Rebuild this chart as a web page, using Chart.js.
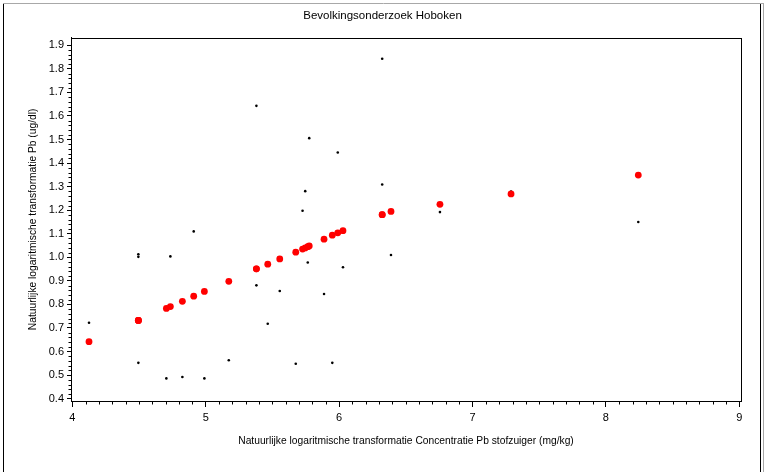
<!DOCTYPE html>
<html>
<head>
<meta charset="utf-8">
<title>Bevolkingsonderzoek Hoboken</title>
<script src="https://cdn.jsdelivr.net/npm/chart.js@4/dist/chart.umd.min.js"></script>
<style>
    html, body { margin: 0; padding: 0; background: #ffffff; }
    #wrap { width: 765px; height: 472px; }
</style>
</head>
<body>
<div id="wrap"><canvas id="pbChart" width="765" height="472"></canvas></div>
<script>
// ===== DATA =====
// ln Pb concentration in dust (mg/kg), one entry per subject
const lnDustPb = [
    4.125, 4.495, 4.495, 4.495, 4.705, 4.735, 4.825, 4.91, 4.99, 5.173,
    5.38, 5.38, 5.465, 5.555, 5.675, 5.726, 5.746, 5.765, 5.776, 5.887,
    5.949, 5.99, 6.029, 6.323, 6.323, 6.389, 6.756, 7.289, 8.243
];
// ln blood Pb (ug/dl), observed
const lnBloodPb = [
    0.722, 1.013, 1.002, 0.552, 0.486, 1.004, 0.492, 1.11, 0.486, 0.563,
    1.643, 0.881, 0.718, 0.857, 0.548, 1.198, 1.281, 0.978, 1.506, 0.844,
    0.552, 1.445, 0.958, 1.843, 1.309, 1.01, 1.192, 1.279, 1.150
];
// ln blood Pb (ug/dl), model prediction
const lnBloodPbFit = [
    0.642, 0.732, 0.732, 0.732, 0.783, 0.791, 0.813, 0.835, 0.855, 0.898,
    0.951, 0.951, 0.971, 0.993, 1.022, 1.035, 1.040, 1.045, 1.048, 1.077,
    1.094, 1.104, 1.113, 1.181, 1.181, 1.195, 1.225, 1.269, 1.349
];
// axis ticks
const xTicks = [4, 5, 6, 7, 8, 9];
const yTicks = [0.4, 0.5, 0.6, 0.7, 0.8, 0.9, 1.0, 1.1, 1.2, 1.3, 1.4, 1.5, 1.6, 1.7, 1.8, 1.9];

const FONT_FAMILY = "'Liberation Sans', Arial, sans-serif";
const NARROW_FAMILY = "'Liberation Sans Narrow', 'Liberation Sans', Arial, sans-serif";

const toPoints = (xs, ys) => xs.map((x, i) => ({ x: x, y: ys[i] }));

/**
 * Frame around the plot area, minor ticks and the page border
 */
const framePlugin = {
    id: 'sasFrame',
    afterDraw(chart) {
        const ctx = chart.ctx;
        const area = chart.chartArea;
        const xs = chart.scales.x;
        const ys = chart.scales.y;

        ctx.save();
        ctx.strokeStyle = '#000000';
        ctx.lineWidth = 1;
        ctx.strokeRect(Math.round(area.left) + 0.5, Math.round(area.top) + 0.5,
            Math.round(area.right - area.left), Math.round(area.bottom - area.top));

        // minor ticks: 0.1 on x, 0.02 on y
        ctx.beginPath();
        for (let i = 40; i <= 90; i++) {
            if (i % 10 === 0) continue;
            const px = Math.round(xs.getPixelForValue(i / 10)) + 0.5;
            ctx.moveTo(px, area.bottom);
            ctx.lineTo(px, area.bottom + 3.5);
        }
        for (let j = 20; j <= 95; j++) {
            if (j % 5 === 0) continue;
            const py = Math.round(ys.getPixelForValue(j / 50)) + 0.5;
            ctx.moveTo(area.left, py);
            ctx.lineTo(area.left - 2.5, py);
        }
        ctx.stroke();

        // page border
        ctx.strokeStyle = '#a8a8a8';
        ctx.beginPath();
        ctx.moveTo(3, 3.5);
        ctx.lineTo(764, 3.5);
        ctx.moveTo(763.5, 3);
        ctx.lineTo(763.5, chart.height);
        ctx.stroke();
        ctx.strokeStyle = '#000000';
        ctx.beginPath();
        ctx.moveTo(3.5, 4);
        ctx.lineTo(3.5, chart.height);
        ctx.moveTo(760.5, 4);
        ctx.lineTo(760.5, chart.height);
        ctx.stroke();
        ctx.restore();
    }
};

const chart = new Chart(document.getElementById('pbChart'), {
    type: 'scatter',
    data: {
        datasets: [
            {
                label: 'Voorspeld',
                data: toPoints(lnDustPb, lnBloodPbFit),
                backgroundColor: '#ff0000',
                borderWidth: 0,
                pointRadius: 3.4,
                pointHoverRadius: 3.4
            },
            {
                label: 'Waargenomen',
                data: toPoints(lnDustPb, lnBloodPb),
                backgroundColor: '#000000',
                borderWidth: 0,
                pointRadius: 1.3,
                pointHoverRadius: 1.3
            }
        ]
    },
    options: {
        responsive: false,
        animation: false,
        layout: { padding: 0 },
        plugins: {
            legend: { display: false },
            tooltip: { enabled: false },
            title: {
                display: true,
                text: 'Bevolkingsonderzoek Hoboken',
                color: '#000000',
                font: { family: NARROW_FAMILY, size: 11.5, weight: 'normal' },
                padding: { top: 9, bottom: 15 }
            }
        },
        scales: {
            x: {
                type: 'linear',
                min: 3.99,
                max: 9.013,
                afterBuildTicks: (axis) => { axis.ticks = xTicks.map(v => ({ value: v })); },
                afterFit: (axis) => { axis.height = 71; },
                grid: { drawOnChartArea: false, drawTicks: true, tickLength: 6, color: '#000000', tickColor: '#000000' },
                border: { display: true, color: '#000000' },
                ticks: {
                    color: '#000000',
                    padding: 4,
                    maxRotation: 0,
                    font: { family: FONT_FAMILY, size: 11 },
                    callback: (v) => String(v)
                },
                title: {
                    display: true,
                    text: 'Natuurlijke logaritmische transformatie Concentratie Pb stofzuiger (mg/kg)',
                    color: '#000000',
                    font: { family: NARROW_FAMILY, size: 10.25 },
                    padding: { top: 0, bottom: 25 }
                }
            },
            y: {
                type: 'linear',
                min: 0.39,
                max: 1.932,
                afterBuildTicks: (axis) => { axis.ticks = yTicks.map(v => ({ value: v })); },
                afterFit: (axis) => { axis.width = 71; },
                grid: { drawOnChartArea: false, drawTicks: true, tickLength: 4, color: '#000000', tickColor: '#000000' },
                border: { display: true, color: '#000000' },
                ticks: {
                    color: '#000000',
                    padding: 3,
                    font: { family: FONT_FAMILY, size: 11 },
                    callback: (v) => v.toFixed(1)
                },
                title: {
                    display: true,
                    text: 'Natuurlijke logaritmische transformatie Pb (ug/dl)',
                    color: '#000000',
                    font: { family: NARROW_FAMILY, size: 10.25 },
                    padding: { top: 27, bottom: 0 }
                }
            },
            // empty right-hand axis, only reserves the margin right of the frame
            yRight: {
                type: 'linear',
                position: 'right',
                display: true,
                afterFit: (axis) => { axis.width = 24; },
                grid: { display: false, drawTicks: false },
                border: { display: false },
                ticks: { display: false }
            }
        }
    },
    plugins: [framePlugin]
});
</script>
</body>
</html>
